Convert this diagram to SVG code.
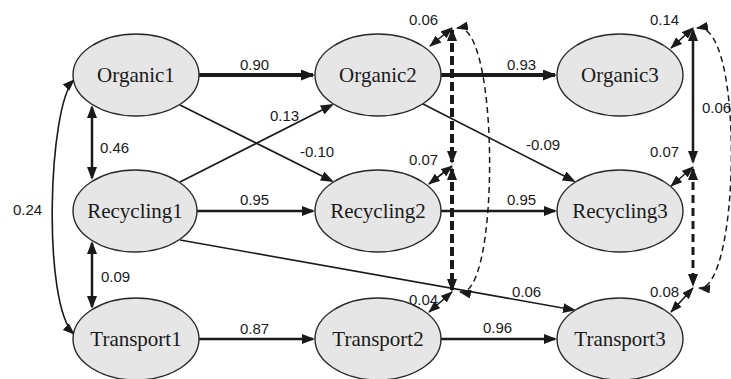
<svg xmlns="http://www.w3.org/2000/svg" width="731" height="379" viewBox="0 0 731 379">
  <style>
    .node ellipse { fill: #e6e6e6; stroke: #2a2a2a; stroke-width: 1.4; }
    .node text { font-family: "Liberation Serif", "Times New Roman", serif; font-size: 21px; fill: #1a1a1a; text-anchor: middle; }
    .lbl { font-family: "Liberation Sans", Arial, sans-serif; font-size: 15px; fill: #1a1a1a; }
    .edge { fill: none; stroke: #1a1a1a; }
    .thick { stroke-width: 4; }
    .mid { stroke-width: 2.5; }
    .thin { stroke-width: 1.6; }
    .dash-thick { stroke-width: 4; stroke-dasharray: 9 4; }
    .dash-mid { stroke-width: 3; stroke-dasharray: 8 5; }
    .dash-thin { stroke-width: 1.5; stroke-dasharray: 6 4; }
    marker path { fill: #1a1a1a; stroke: none; }
  </style>
  <defs>
    <marker id="aBig" viewBox="0 0 14 11" refX="12" refY="5.5" markerWidth="14" markerHeight="11" markerUnits="userSpaceOnUse" orient="auto-start-reverse">
      <path d="M0,0 L14,5.5 L0,11 z"/>
    </marker>
    <marker id="aMid" viewBox="0 0 13 10" refX="11" refY="5" markerWidth="13" markerHeight="10" markerUnits="userSpaceOnUse" orient="auto-start-reverse">
      <path d="M0,0 L13,5 L0,10 z"/>
    </marker>
    <marker id="aSmall" viewBox="0 0 12 9" refX="11" refY="4.5" markerWidth="12" markerHeight="9" markerUnits="userSpaceOnUse" orient="auto-start-reverse">
      <path d="M0,0 L12,4.5 L0,9 z"/>
    </marker>
  </defs>

  <!-- connectors -->
  <g id="connectors">
    <!-- autoregressive paths -->
    <line class="edge thick" x1="199" y1="75" x2="313" y2="75" marker-end="url(#aBig)"/>
    <line class="edge thick" x1="441" y1="75" x2="555" y2="75" marker-end="url(#aBig)"/>
    <line class="edge mid" x1="197" y1="211" x2="313" y2="211" marker-end="url(#aMid)"/>
    <line class="edge mid" x1="441" y1="211" x2="555" y2="211" marker-end="url(#aMid)"/>
    <line class="edge mid" x1="199" y1="339" x2="313" y2="339" marker-end="url(#aMid)"/>
    <line class="edge mid" x1="441" y1="339" x2="555" y2="339" marker-end="url(#aMid)"/>

    <!-- cross-lagged paths -->
    <line class="edge thin" x1="180" y1="105" x2="332" y2="181" marker-end="url(#aMid)"/>
    <line class="edge thin" x1="180" y1="182" x2="332" y2="105" marker-end="url(#aMid)"/>
    <line class="edge thin" x1="423" y1="104" x2="574" y2="181" marker-end="url(#aMid)"/>
    <line class="edge thin" x1="180" y1="240" x2="574" y2="310" marker-end="url(#aMid)"/>

    <!-- time-1 correlations -->
    <line class="edge mid" x1="92" y1="107" x2="92" y2="178" marker-start="url(#aMid)" marker-end="url(#aMid)"/>
    <line class="edge mid" x1="92" y1="243" x2="92" y2="307" marker-start="url(#aMid)" marker-end="url(#aMid)"/>
    <path class="edge thin" d="M74,80 C48,105 42,305 74,334" marker-start="url(#aSmall)" marker-end="url(#aSmall)"/>

    <!-- time-2 residual covariances -->
    <line class="edge thin" x1="452" y1="28" x2="430" y2="46" marker-start="url(#aSmall)" marker-end="url(#aSmall)"/>
    <line class="edge thin" x1="452" y1="166" x2="429" y2="184" marker-start="url(#aSmall)" marker-end="url(#aSmall)"/>
    <line class="edge thin" x1="452" y1="292" x2="429" y2="312" marker-start="url(#aSmall)" marker-end="url(#aSmall)"/>
    <line class="edge dash-thick" x1="452" y1="30" x2="452" y2="162" marker-start="url(#aMid)" marker-end="url(#aMid)"/>
    <line class="edge dash-thick" x1="452" y1="169" x2="452" y2="290" marker-start="url(#aMid)" marker-end="url(#aMid)"/>
    <path class="edge dash-thin" d="M457,28 C500,20 500,300 460,292" marker-start="url(#aSmall)" marker-end="url(#aSmall)"/>

    <!-- time-3 residual covariances -->
    <line class="edge thin" x1="693" y1="28" x2="671" y2="48" marker-start="url(#aSmall)" marker-end="url(#aSmall)"/>
    <line class="edge thin" x1="693" y1="167" x2="671" y2="186" marker-start="url(#aSmall)" marker-end="url(#aSmall)"/>
    <line class="edge thin" x1="693" y1="288" x2="671" y2="312" marker-start="url(#aSmall)" marker-end="url(#aSmall)"/>
    <line class="edge mid" x1="693" y1="30" x2="693" y2="162" stroke-width="2" marker-start="url(#aMid)" marker-end="url(#aMid)"/>
    <line class="edge dash-mid" x1="693" y1="169" x2="693" y2="285" marker-start="url(#aMid)" marker-end="url(#aMid)"/>
    <path class="edge dash-thin" d="M697,28 C745,20 740,292 699,288" marker-start="url(#aSmall)" marker-end="url(#aSmall)"/>
  </g>

  <!-- coefficients -->
  <g id="labels">
    <text class="lbl" x="240" y="70">0.90</text>
    <text class="lbl" x="507" y="70">0.93</text>
    <text class="lbl" x="240" y="205">0.95</text>
    <text class="lbl" x="507" y="205">0.95</text>
    <text class="lbl" x="240" y="334">0.87</text>
    <text class="lbl" x="483" y="333">0.96</text>
    <text class="lbl" x="270" y="121">0.13</text>
    <text class="lbl" x="300" y="157">-0.10</text>
    <text class="lbl" x="526" y="150">-0.09</text>
    <text class="lbl" x="512" y="297">0.06</text>
    <text class="lbl" x="100" y="153">0.46</text>
    <text class="lbl" x="101" y="282">0.09</text>
    <text class="lbl" x="13" y="215">0.24</text>
    <text class="lbl" x="409" y="25">0.06</text>
    <text class="lbl" x="409" y="165">0.07</text>
    <text class="lbl" x="409" y="305">0.04</text>
    <text class="lbl" x="650" y="25">0.14</text>
    <text class="lbl" x="702" y="113">0.06</text>
    <text class="lbl" x="650" y="157">0.07</text>
    <text class="lbl" x="650" y="297">0.08</text>
  </g>

  <!-- nodes -->
  <g id="Organic1" class="node"><ellipse cx="136" cy="75" rx="63" ry="41"/><text x="136" y="82">Organic1</text></g>
  <g id="Recycling1" class="node"><ellipse cx="135" cy="211" rx="62" ry="41"/><text x="135" y="218">Recycling1</text></g>
  <g id="Transport1" class="node"><ellipse cx="136" cy="339" rx="63" ry="41"/><text x="136" y="346">Transport1</text></g>
  <g id="Organic2" class="node"><ellipse cx="378" cy="75" rx="63" ry="41"/><text x="378" y="82">Organic2</text></g>
  <g id="Recycling2" class="node"><ellipse cx="378" cy="211" rx="63" ry="41"/><text x="378" y="218">Recycling2</text></g>
  <g id="Transport2" class="node"><ellipse cx="378" cy="339" rx="63" ry="41"/><text x="378" y="346">Transport2</text></g>
  <g id="Organic3" class="node"><ellipse cx="620" cy="75" rx="63" ry="41"/><text x="620" y="82">Organic3</text></g>
  <g id="Recycling3" class="node"><ellipse cx="620" cy="211" rx="63" ry="41"/><text x="620" y="218">Recycling3</text></g>
  <g id="Transport3" class="node"><ellipse cx="620" cy="339" rx="63" ry="41"/><text x="620" y="346">Transport3</text></g>
</svg>
